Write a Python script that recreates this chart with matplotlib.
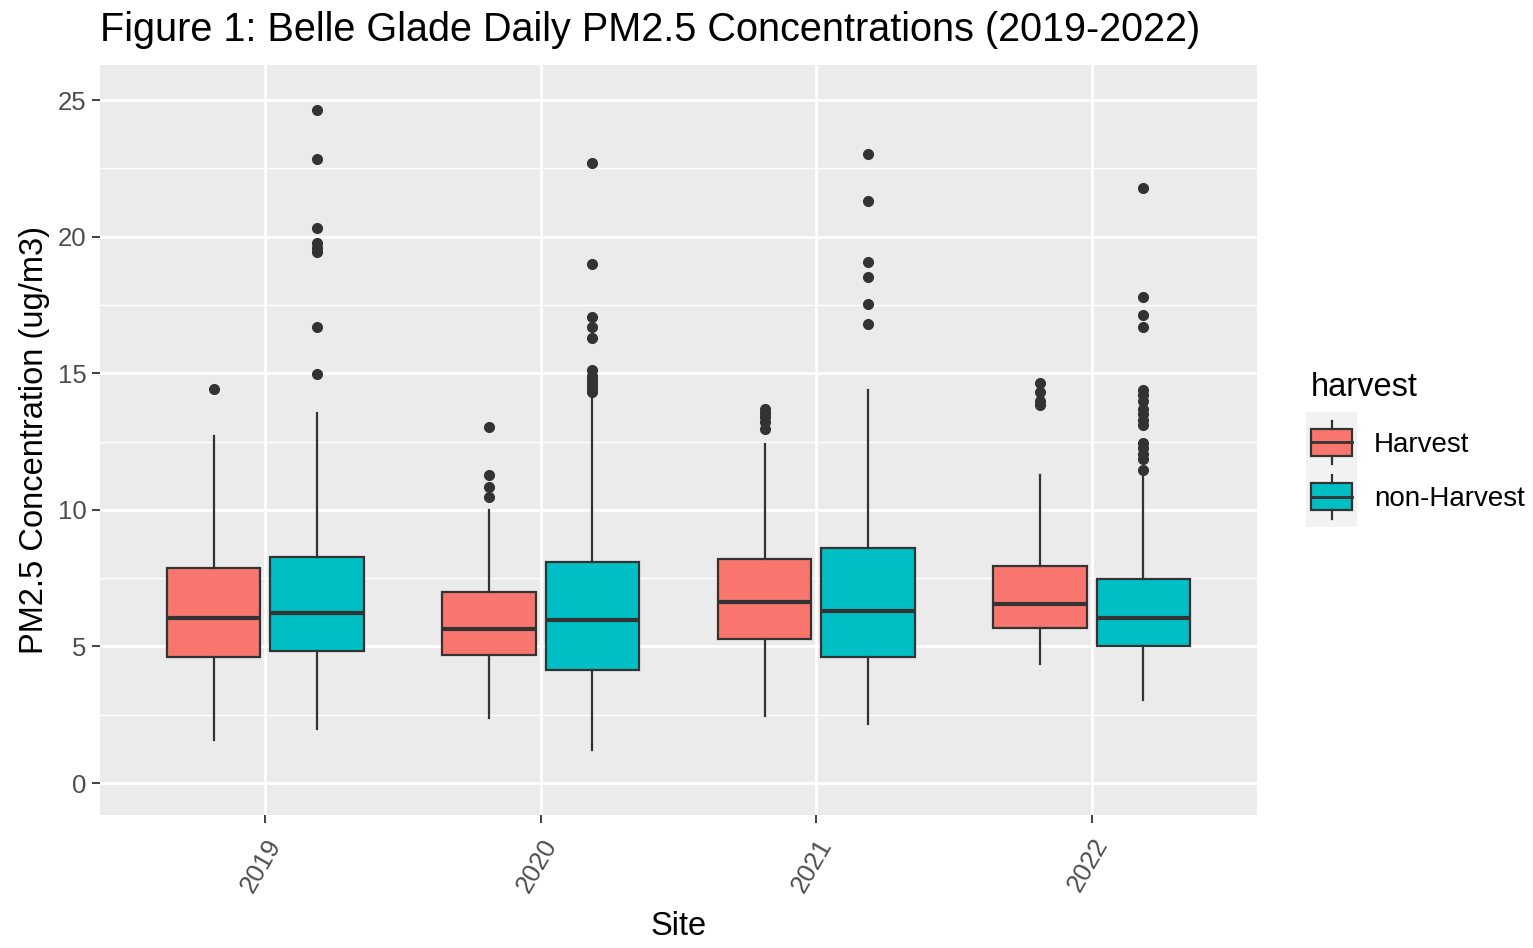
import matplotlib
matplotlib.use("Agg")
import matplotlib.pyplot as plt
from matplotlib.legend_handler import HandlerBase
from matplotlib.patches import Rectangle
from matplotlib.lines import Line2D

plt.rcParams['font.family'] = ['Liberation Sans', 'DejaVu Sans']

# ---- data ----
years = ['2019', '2020', '2021', '2022']
groups = ['Harvest', 'non-Harvest']
colores = ['#F8766D', '#00BFC4']

# stats per year: (whislo, q1, med, q3, whishi)
harvest_stats = [
    (1.57, 4.61, 6.04, 7.87, 12.7),
    (2.38, 4.69, 5.64, 6.99, 9.99),
    (2.45, 5.27, 6.63, 8.20, 12.41),
    (4.36, 5.67, 6.55, 7.94, 11.27),
]
nonharvest_stats = [
    (1.98, 4.83, 6.22, 8.27, 13.54),
    (1.21, 4.14, 5.97, 8.09, 14.15),
    (2.16, 4.61, 6.30, 8.60, 14.39),
    (3.04, 5.01, 6.04, 7.47, 11.2),
]
harvest_out = [
    [14.42],
    [13.04, 11.27, 10.85, 10.48],
    [13.7, 13.55, 13.4, 13.2, 12.95],
    [14.63, 14.3, 14.0, 13.85],
]
nonharvest_out = [
    [24.63, 22.83, 20.30, 19.75, 19.6, 19.45, 16.70, 14.98],
    [22.68, 19.0, 17.07, 16.70, 16.28, 15.12, 14.9, 14.75, 14.6, 14.45, 14.3],
    [23.01, 21.29, 19.08, 18.51, 17.53, 16.79],
    [21.78, 17.78, 17.13, 16.70, 14.4, 14.2, 14.0, 13.7, 13.5, 13.3, 13.1,
     12.45, 12.25, 12.05, 11.85, 11.46],
]

linea = '#333333'


def armar_stats(stats, outs):
    res = []
    for (lo, q1, med, q3, hi), fl in zip(stats, outs):
        res.append(dict(whislo=lo, q1=q1, med=med, q3=q3, whishi=hi, fliers=fl))
    return res


class HandlerCaja(HandlerBase):
    def create_artists(self, legend, orig_handle, xdescent, ydescent,
                       width, height, fontsize, trans):
        color = orig_handle.get_facecolor()
        fondo = Rectangle((-xdescent - 4, -ydescent - 12), width + 8, height + 24,
                          facecolor='#F2F2F2', edgecolor='none', transform=trans)
        cx = -xdescent + width / 2
        caja = Rectangle((-xdescent, -ydescent), width, height,
                         facecolor=color, edgecolor=linea, lw=1.6, transform=trans)
        w1 = Line2D([cx, cx], [-ydescent - 6, -ydescent], color=linea, lw=1.6, transform=trans)
        w2 = Line2D([cx, cx], [-ydescent + height, -ydescent + height + 6], color=linea, lw=1.6, transform=trans)
        med = Line2D([-xdescent, -xdescent + width],
                     [-ydescent + height / 2] * 2, color=linea, lw=2.0, transform=trans)
        return [fondo, caja, w1, w2, med]


fig = plt.figure(figsize=(15.33, 9.48), dpi=100)
ax = fig.add_axes([0.0652, 0.1403, 0.7548, 0.7911])
ax.set_facecolor('#EBEBEB')

# grid
for v in [2.5, 7.5, 12.5, 17.5, 22.5]:
    ax.axhline(v, color='white', lw=1.0, zorder=0)
for v in range(0, 26, 5):
    ax.axhline(v, color='white', lw=2.0, zorder=0)
for i in range(len(years)):
    ax.axvline(i + 1, color='white', lw=2.0, zorder=0)

desp = 0.1875
ancho = 0.34
for k, (stats, outs) in enumerate([(harvest_stats, harvest_out), (nonharvest_stats, nonharvest_out)]):
    pos = [i + 1 + (k * 2 - 1) * desp for i in range(len(years))]
    ax.bxp(armar_stats(stats, outs), positions=pos, widths=ancho,
           patch_artist=True, showcaps=False,
           boxprops=dict(facecolor=colores[k], edgecolor=linea, lw=1.6),
           medianprops=dict(color=linea, lw=3.0),
           whiskerprops=dict(color=linea, lw=1.6),
           flierprops=dict(marker='o', markerfacecolor=linea, markeredgecolor=linea,
                           markersize=7),
           zorder=3)

ax.set_xlim(0.4, 4.6)
ax.set_ylim(-1.17, 26.28)
ax.set_xticks(range(1, len(years) + 1))
ax.set_xticklabels(years, rotation=60, ha='right', va='top', rotation_mode='anchor')
ax.set_yticks(range(0, 26, 5))
ax.tick_params(axis='both', colors='#333333', labelcolor='#4D4D4D', labelsize=18.5,
               length=6, width=1.3)
ax.tick_params(axis='x', pad=8)
for s in ax.spines.values():
    s.set_visible(False)

ax.set_xlabel('Site', fontsize=23.5, color='black', labelpad=11)
ax.set_ylabel('PM2.5 Concentration (ug/m3)', fontsize=23.5, color='black', labelpad=6)
fig.text(0.0652, 0.968, 'Figure 1: Belle Glade Daily PM2.5 Concentrations (2019-2022)',
         fontsize=28.5, ha='left', va='center')

handles = [Rectangle((0, 0), 1, 1, facecolor=c) for c in colores]
leg = fig.legend(handles, groups, loc='upper left', bbox_to_anchor=(0.848, 0.619),
                 title='harvest', frameon=False, fontsize=20, title_fontsize=23.5,
                 handler_map={Rectangle: HandlerCaja()}, handlelength=1.47,
                 handleheight=1.12, labelspacing=0.92, handletextpad=0.8,
                 borderaxespad=0)
leg._legend_box.align = 'left'

fig.savefig('out.png', dpi=100)
